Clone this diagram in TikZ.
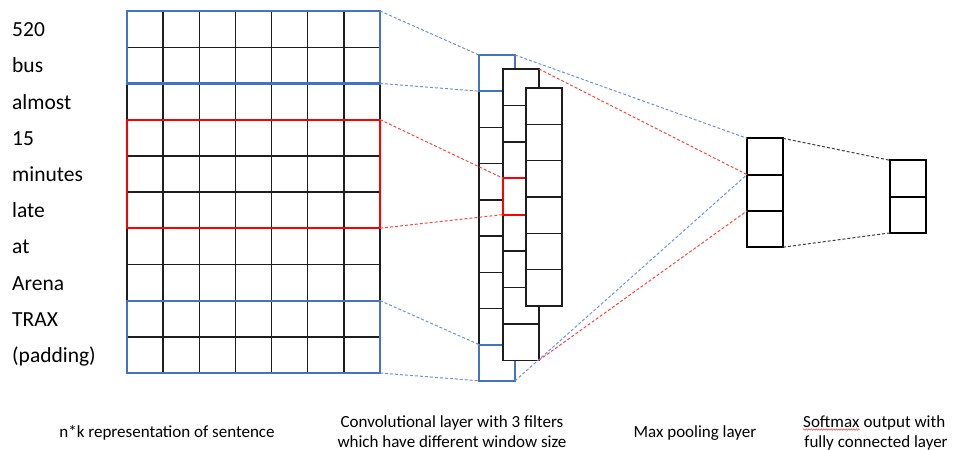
\documentclass[tikz,border=0pt]{standalone}
\usepackage{fontspec}
\setmainfont{Carlito}
\usetikzlibrary{decorations.pathmorphing}
\definecolor{boxblue}{RGB}{68,114,196}
\definecolor{linkblue}{RGB}{112,146,212}
\definecolor{linkred}{RGB}{250,70,70}
\definecolor{linkgray}{RGB}{60,60,60}
\definecolor{gridgray}{RGB}{30,30,30}
\begin{document}
\begin{tikzpicture}[x=1pt,y=-1pt,
  gridline/.style={draw=gridgray,line width=1.4pt},
  win/.style={draw=#1,line width=2.2pt,inner sep=0pt,outer sep=0pt,
    anchor=north west,minimum width=253pt},
  cell/.style={draw=gridgray,fill=white,line width=1.4pt,inner sep=0pt,
    outer sep=0pt,anchor=north west,minimum width=36pt},
  outcell/.style={cell,draw=black,line width=1.8pt,minimum height=36.3pt},
  word/.style={anchor=base west,inner sep=0pt,font=\fontsize{21.5}{24}\selectfont},
  lbl/.style={anchor=base,inner sep=0pt,font=\fontsize{17}{20}\selectfont},
  link/.style={line width=1pt,dash pattern=on 3pt off 2pt}]
\useasboundingbox (0,0) rectangle (954,450);

% ---- n x k sentence matrix ----
\foreach \i in {0,...,7}
  \draw[gridline] ({127+\i*36.14},11) -- ({127+\i*36.14},373);
\foreach \j in {0,...,10}
  \draw[gridline] (127,{11+\j*36.2}) -- (380,{11+\j*36.2});

% windows over the rows
\node[win=boxblue,minimum height=72.4pt] (wtop) at (127,11) {};
\node[win=red,minimum height=108.6pt] (wred) at (127,119.6) {};
\node[win=boxblue,minimum height=72.4pt] (wbot) at (127,300.6) {};

% words of the sentence, one per row
\foreach \w [count=\r from 0] in {520,bus,almost,15,minutes,late,at,Arena,TRAX,(padding)}
  \node[word] (word\r) at (12,{11+(\r+0.5)*36.2+7.5}) {\w};

% ---- convolutional filters ----
\foreach \k in {1,...,9}
  \node[cell,minimum height=36.2pt] (f1c\k) at (479,{55+(\k-1)*36.2}) {};
\draw[boxblue,line width=2.2pt] (f1c1.north west) rectangle (f1c1.south east);
\draw[boxblue,line width=2.2pt] (f1c9.north west) rectangle (f1c9.south east);

\foreach \k in {1,...,8}
  \node[cell,minimum height=36.4pt] (f2c\k) at (503,{69+(\k-1)*36.4}) {};
\draw[red,line width=2.2pt] (f2c4.north west) rectangle (f2c4.south east);

\foreach \k in {1,...,6}
  \node[cell,minimum height=36.3pt] (f3c\k) at (526,{88+(\k-1)*36.3}) {};

% ---- max pooling and softmax ----
\foreach \k in {1,...,3}
  \node[outcell] (mp\k) at (747,{138.3+(\k-1)*36.3}) {};
\foreach \k in {1,...,2}
  \node[outcell] (sm\k) at (890,{160.3+(\k-1)*36.3}) {};

% ---- connectors ----
\draw[link,linkblue] (wtop.north east) -- (f1c1.north west);
\draw[link,linkblue] (wtop.south east) -- (f1c1.south west);
\draw[link,linkblue] (wbot.north east) -- (f1c9.north west);
\draw[link,linkblue] (wbot.south east) -- (f1c9.south west);
\draw[link,linkred] (wred.north east) -- (f2c4.north west);
\draw[link,linkred] (wred.south east) -- (f2c4.south west);

\draw[link,linkblue] (f1c1.north east) -- (mp1.north west);
\draw[link,linkblue] (f1c9.south east) -- (mp2.north west);
\draw[link,linkred] (f2c1.north east) -- (mp2.north west);
\draw[link,linkred] (f2c8.south east) -- (mp3.north west);

\draw[link,linkgray] (mp1.north east) -- (sm1.north west);
\draw[link,linkgray] (mp3.south east) -- (sm2.south west);

% ---- captions ----
\node[lbl] (cap1) at (167,437) {n*k representation of sentence};
\node[lbl] (cap2a) at (452,427) {Convolutional layer with 3 filters};
\node[lbl] (cap2b) at (452,447) {which have different window size};
\node[lbl] (cap3) at (695,437) {Max pooling layer};
\node[lbl,anchor=base west] (cap4w) at (803,427) {Softmax};
\node[lbl,anchor=base west] (cap4r) at (cap4w.base east) {\ output with};
\node[lbl] (cap4b) at (876,447) {fully connected layer};
\draw[red!80,line width=0.5pt,decorate,
  decoration={snake,amplitude=0.7pt,segment length=2.5pt}]
  ([yshift=-2.5pt]cap4w.base west) -- ([yshift=-2.5pt]cap4w.base east);
\end{tikzpicture}
\end{document}
